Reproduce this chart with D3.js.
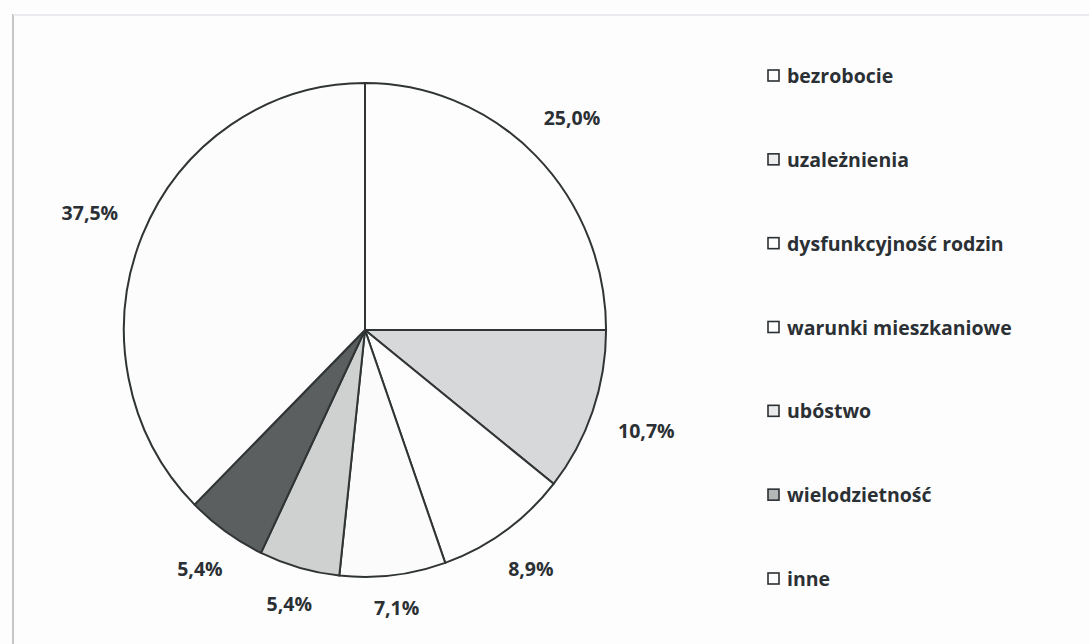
<!DOCTYPE html>
<html>
<head>
<meta charset="utf-8">
<script src="https://cdn.jsdelivr.net/npm/d3@7"></script>
<style>
  body { margin: 0; background: #fdfdfe; }
  svg { display: block; }
</style>
</head>
<body>
<div id="chart"></div>
<script>
// data
const categories = ["bezrobocie", "uzależnienia", "dysfunkcyjność rodzin", "warunki mieszkaniowe",
                    "ubóstwo", "wielodzietność", "inne"];
const shares = [25.0, 10.7, 8.9, 7.1, 5.4, 5.4, 37.5];
const shareLabels = ["25,0%", "10,7%", "8,9%", "7,1%", "5,4%", "5,4%", "37,5%"];

const fills = ["#fdfdfd", "#d6d8da", "#fdfdfd", "#fbfbfb", "#cfd0d0", "#5b5f5f", "#fcfcfc"];
const ink = "#2b3034";
const font = "'Open Sans', Lato, sans-serif";
const fontSize = 19.5;

const width = 1089, height = 644;
const cx = 365, cy = 330, r = 247, sx = 0.976;

const svg = d3.select("#chart").append("svg")
    .attr("width", width)
    .attr("height", height);

// faint frame of the scanned chart area
svg.append("line")
    .attr("x1", 13).attr("x2", 13).attr("y1", 14).attr("y2", height)
    .attr("stroke", "#c4c6c8").attr("stroke-width", 2);
svg.append("line")
    .attr("x1", 13).attr("x2", width).attr("y1", 15).attr("y2", 15)
    .attr("stroke", "#e2e4e8").attr("stroke-width", 1.5);

const data = categories.map((c, i) => ({name: c, value: shares[i], label: shareLabels[i], fill: fills[i]}));

const pie = d3.pie().value(d => d.value).sort(null);
const arc = d3.arc().innerRadius(0).outerRadius(r);
const arcs = pie(data);

const g = svg.append("g")
    .attr("transform", `translate(${cx},${cy}) scale(${sx},1)`);

g.selectAll("path")
  .data(arcs)
  .join("path")
    .attr("d", arc)
    .attr("fill", d => d.data.fill)
    .attr("stroke", "#303434")
    .attr("stroke-width", 2)
    .attr("vector-effect", "non-scaling-stroke")
    .attr("stroke-linejoin", "round");

// percentage labels just outside the rim
const labels = svg.append("g")
    .attr("font-family", font)
    .attr("font-weight", "bold")
    .attr("font-size", fontSize)
    .attr("fill", ink);

labels.selectAll("text")
  .data(arcs)
  .join("text")
    .attr("text-anchor", "middle")
    .attr("dy", "0.36em")
    .text(d => d.data.label)
    .each(function(d) {
      const w = this.getComputedTextLength();
      const h = fontSize;
      const a = (d.startAngle + d.endAngle) / 2;
      const ux = Math.sin(a), uy = -Math.cos(a);
      const dist = r + 19 + Math.abs(ux) * (w / 2 + 10) + Math.abs(uy) * h / 2;
      d3.select(this)
        .attr("x", cx + ux * dist * sx)
        .attr("y", cy + uy * dist);
    });

// legend
const legendY = d3.scalePoint()
    .domain(categories)
    .range([76, 579]);

const legend = svg.append("g")
    .attr("font-family", font)
    .attr("font-weight", "bold")
    .attr("font-size", fontSize)
    .attr("fill", ink);

const item = legend.selectAll("g")
  .data(data)
  .join("g")
    .attr("transform", d => `translate(768,${legendY(d.name)})`);

item.append("rect")
    .attr("x", 0).attr("y", -6)
    .attr("width", 11).attr("height", 11)
    .attr("fill", d => d3.interpolateRgb(d.fill, "#ffffff")(0.55))
    .attr("stroke", ink)
    .attr("stroke-width", 1.6);

item.append("text")
    .attr("x", 19)
    .attr("dy", "0.36em")
    .text(d => d.name);
</script>
</body>
</html>
